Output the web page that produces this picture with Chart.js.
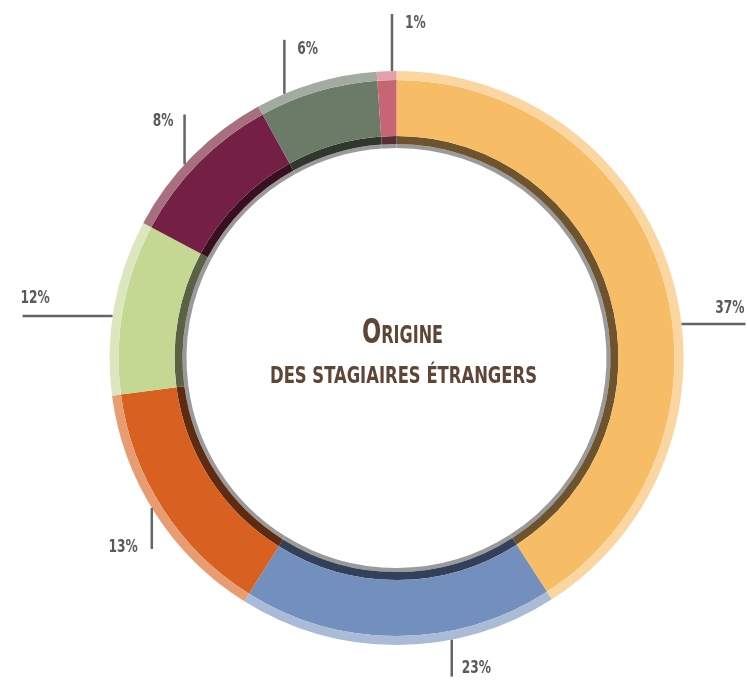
<!DOCTYPE html>
<html>
<head>
<meta charset="utf-8">
<script src="https://cdn.jsdelivr.net/npm/chart.js@4"></script>
<style>
  html, body { margin: 0; padding: 0; background: #fff; }
  #wrap { width: 747px; height: 682px; position: relative; }
</style>
</head>
<body>
<div id="wrap"><canvas id="origine"></canvas></div>
<script>
// printed labels and the share of the ring each slice takes in the picture
const pctLabels = ['37%', '23%', '13%', '12%', '8%', '6%', '1%'];
const arcShares = [40.9, 18.0, 14.0, 9.9, 9.2, 6.9, 1.1];

const mainColors = ['#F7BC66', '#738FBE', '#D86020', '#C4D893', '#741F44', '#6C7A68', '#C66675'];
const rimColors = ['#FBD6A0', '#AABBD8', '#E89C72', '#DCE7BF', '#A8707F', '#A3ABA0', '#E0A1AB'];
const shadowColors = ['#6E542E', '#33405A', '#5E2A10', '#5B6145', '#3A0F22', '#30372D', '#5A2E35'];
const edgeColors = ['#9A9A9A', '#9A9A9A', '#9A9A9A', '#9A9A9A', '#9A9A9A', '#9A9A9A', '#9A9A9A'];

const titleFirst = 'O';
const titleRest = 'RIGINE';
const titleLine2 = 'DES STAGIAIRES ÉTRANGERS';

const FONT = '"Liberation Sans Narrow", "DejaVu Sans Condensed", "Roboto Condensed", sans-serif';

// where each leader line leaves the ring (degrees from top, clockwise) and how it runs
const leaders = [
  { deg: 83.2, dir: 'right', len: 64, align: 'right', dx: -1, dy: -11 },
  { deg: 168.9, dir: 'down', len: 37, align: 'left', dx: 10, dy: -4 },
  { deg: 238.5, dir: 'down', len: 41, align: 'right', dx: -14, dy: 3 },
  { deg: 278.4, dir: 'left', len: 90, align: 'left', dx: -2, dy: -13 },
  { deg: 312.4, dir: 'up', len: 50, align: 'right', dx: -11, dy: 12 },
  { deg: 337, dir: 'up', len: 54, align: 'left', dx: 13, dy: 14 },
  { deg: 359.1, dir: 'up', len: 57, align: 'left', dx: 13, dy: 14 }
];

function drawSqueezed(ctx, text, cx, y, targetW) {
  const w = ctx.measureText(text).width;
  ctx.save();
  ctx.translate(cx, y);
  ctx.scale(targetW / w, 1);
  ctx.fillText(text, -w / 2, 0);
  ctx.restore();
}

const decorPlugin = {
  id: 'decor',
  afterDatasetsDraw(chart) {
    const ctx = chart.ctx;
    const arc = chart.getDatasetMeta(0).data[0];
    const cx = arc.x, cy = arc.y, R = arc.outerRadius;

    // leader lines + percentages
    ctx.save();
    ctx.strokeStyle = '#656565';
    ctx.lineWidth = 2.5;
    ctx.fillStyle = '#5a5a5a';
    ctx.font = 'bold 17px ' + FONT;
    ctx.textBaseline = 'alphabetic';
    leaders.forEach((l, i) => {
      const a = l.deg * Math.PI / 180;
      const sx = cx + R * Math.sin(a);
      const sy = cy - R * Math.cos(a);
      let ex = sx, ey = sy;
      if (l.dir === 'right') ex = sx + l.len;
      if (l.dir === 'left') ex = sx - l.len;
      if (l.dir === 'up') ey = sy - l.len;
      if (l.dir === 'down') ey = sy + l.len;
      ctx.beginPath();
      ctx.moveTo(sx, sy);
      ctx.lineTo(ex, ey);
      ctx.stroke();
      ctx.save();
      ctx.translate(ex + l.dx, ey + l.dy);
      ctx.scale(0.8, 1);
      ctx.textAlign = l.align;
      ctx.fillText(pctLabels[i], 0, 0);
      ctx.restore();
    });
    ctx.restore();

    // center title
    ctx.save();
    ctx.fillStyle = '#5E4535';
    ctx.textBaseline = 'alphabetic';
    ctx.textAlign = 'left';
    const big = 'bold 34px ' + FONT, small = 'bold 24px ' + FONT;
    ctx.font = big;
    const w1 = ctx.measureText(titleFirst).width;
    ctx.font = small;
    const w2 = ctx.measureText(titleRest).width;
    const k = 81 / (w1 + w2);
    ctx.translate(402.5, 343);
    ctx.scale(k, 1);
    ctx.font = big;
    ctx.fillText(titleFirst, -(w1 + w2) / 2, 0);
    ctx.font = small;
    ctx.fillText(titleRest, -(w1 + w2) / 2 + w1, 0);
    ctx.restore();

    ctx.save();
    ctx.fillStyle = '#5E4535';
    ctx.font = 'bold 23px ' + FONT;
    drawSqueezed(ctx, titleLine2, 403.5, 383, 267);
    ctx.restore();
  }
};

const ringSet = (colors, weight) => ({
  data: arcShares,
  backgroundColor: colors,
  borderWidth: 0,
  hoverBorderWidth: 0,
  offset: 0,
  hoverOffset: 0,
  weight: weight
});

new Chart(document.getElementById('origine'), {
  type: 'doughnut',
  data: {
    labels: pctLabels,
    datasets: [
      ringSet(rimColors, 9),
      ringSet(mainColors, 56),
      ringSet(shadowColors, 8),
      ringSet(edgeColors, 4)
    ]
  },
  options: {
    responsive: true,
    maintainAspectRatio: false,
    animation: false,
    cutout: 210,
    rotation: 0,
    layout: { padding: { left: 109.5, right: 63.5, top: 71, bottom: 37 } },
    plugins: {
      legend: { display: false },
      tooltip: { enabled: false }
    }
  },
  plugins: [decorPlugin]
});
</script>
</body>
</html>
